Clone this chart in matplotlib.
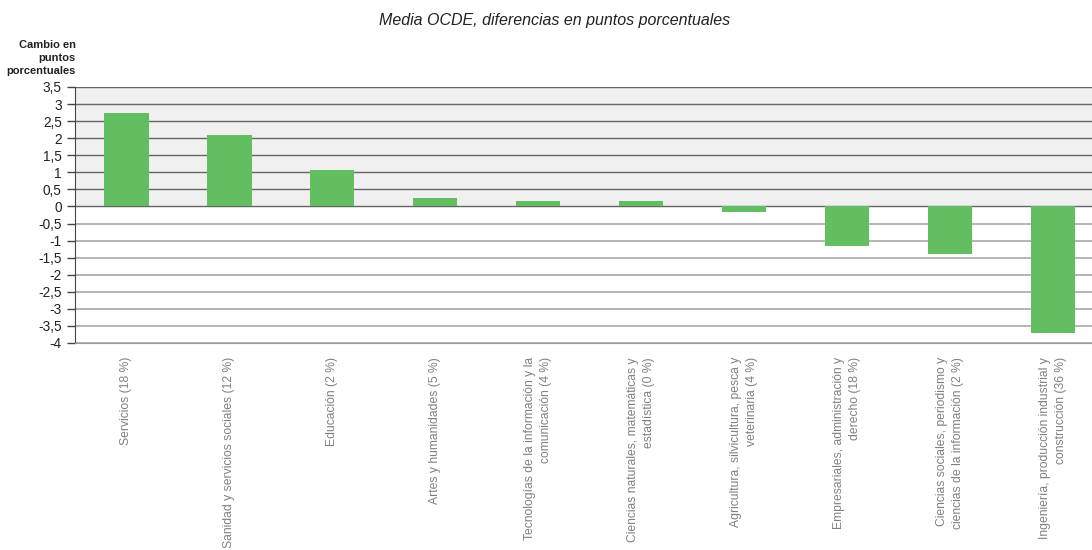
import numpy as np
import matplotlib.pyplot as plt

plt.rcParams['font.family'] = ['Liberation Sans', 'DejaVu Sans']

# Data
categories = [
    "Servicios (18 %)",
    "Sanidad y servicios sociales (12 %)",
    "Educación (2 %)",
    "Artes y humanidades (5 %)",
    "Tecnologías de la información y la\ncomunicación (4 %)",
    "Ciencias naturales, matemáticas y\nestadística (0 %)",
    "Agricultura, silvicultura, pesca y\nveterinaria (4 %)",
    "Empresariales, administración y\nderecho (18 %)",
    "Ciencias sociales, periodismo y\nciencias de la información (2 %)",
    "Ingeniería, producción industrial y\nconstrucción (36 %)",
]
values = [2.75, 2.08, 1.08, 0.24, 0.15, 0.15, -0.15, -1.16, -1.40, -3.72]
yticks = np.arange(-4, 3.51, 0.5)

fig = plt.figure(figsize=(10.92, 5.5), dpi=100)
ax = fig.add_axes([75 / 1092, 1 - 343 / 550, 1 - 75 / 1092, 256 / 550])

x = np.arange(len(categories))
ax.set_xlim(-0.5, 9.38)
ax.set_ylim(-4, 3.5)

# shaded upper band and grid lines
ax.axhspan(0, 3.5, color='#f0f0f0', zorder=0)
for t in yticks:
    if t > 0:
        ax.axhline(t, color='#666666', lw=1.0, zorder=1)
    elif t < 0:
        ax.axhline(t, color='#a8a8a8', lw=1.2, zorder=1)
ax.axhline(0, color='#666666', lw=1.0, zorder=1)

ax.bar(x, values, width=0.43, color='#63be62', zorder=2)

ax.set_yticks(yticks)
ax.set_yticklabels([('%g' % t).replace('.', ',') for t in yticks], fontsize=9.8, color='#222222')
ax.tick_params(axis='y', direction='out', length=6, color='#444444', width=1)
ax.set_xticks(x)
ax.set_xticklabels(categories, rotation=90, fontsize=8.7, color='#808080',
                   va='top', ha='center', multialignment='right', linespacing=1.4)
ax.tick_params(axis='x', length=0, pad=10)

for s in ['top', 'right']:
    ax.spines[s].set_visible(False)
ax.spines['left'].set_color('#444444')
ax.spines['bottom'].set_color('#999999')

fig.text(555 / 1092, 1 - 21 / 550, "Media OCDE, diferencias en puntos porcentuales",
         ha='center', va='center', fontsize=11.5, style='italic', color='#222222')
fig.text(76 / 1092, 1 - 40 / 550, "Cambio en\npuntos\nporcentuales",
         ha='right', va='top', multialignment='right', fontsize=8,
         fontweight='bold', color='#222222', linespacing=1.35)

fig.savefig('out.png', dpi=100)
